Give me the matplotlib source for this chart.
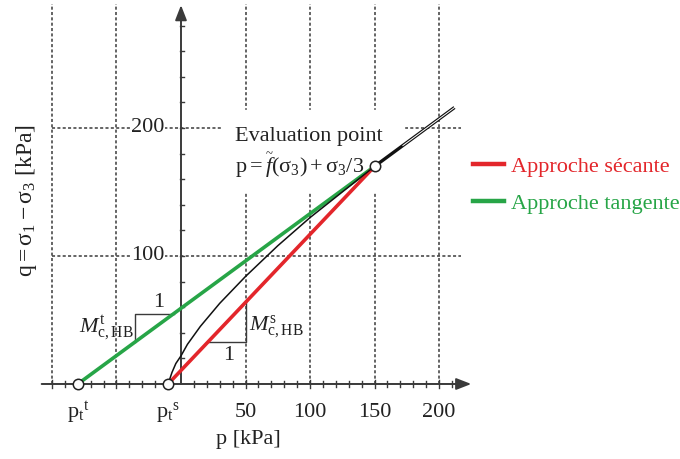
import numpy as np
import matplotlib
matplotlib.use("Agg")
import matplotlib.pyplot as plt
from matplotlib.lines import Line2D

plt.rcParams['font.family'] = ['Liberation Serif', 'DejaVu Serif']
plt.rcParams['mathtext.fontset'] = 'custom'
plt.rcParams['mathtext.rm'] = 'Liberation Serif'
plt.rcParams['mathtext.it'] = 'Liberation Serif:italic'
plt.rcParams['mathtext.bf'] = 'Liberation Serif:bold'

## data (kPa)
pt_t = -80      # tension cut-off, tangent approach
pt_s = -10      # tension cut-off, secant approach
p_eval = 150
q_eval = 170

# measured HB curve
p_curve = [-10, -7, -4, 0, 5, 15, 30, 50, 75, 100, 125, 150]
q_curve = [0, 9, 16, 22, 31, 45, 63, 84, 108, 130, 150, 170]
# continuation beyond evaluation point
p_ext = [150, 212]
q_ext = [170, 216]

secant_p = [pt_s, p_eval]
secant_q = [0, q_eval]
tangent_p = [pt_t, p_eval]
tangent_q = [0, q_eval]

xgrid = [-100, -50, 50, 100, 150, 200]
ygrid = [100, 200]
xtick_vals = [pt_t, pt_s, 50, 100, 150, 200]
xtick_labels = [r'$\mathrm{p_t}^{\mathrm{t}}$', r'$\mathrm{p_t}^{\mathrm{s}}$', '50', '100', '150', '200']
ytick_vals = [100, 200]

red = '#e3262b'
green = '#27a547'
axc = '#3a3a3a'
fs = 16

fig = plt.figure(figsize=(6.8, 4.59), dpi=100)
ax = fig.add_axes([0, 0, 1, 1])
ax.set_xlim(-140.3, 386.8)
ax.set_ylim(-58.6, 300)
ax.axis('off')

# grid
for x in xgrid:
    ax.plot([x, x], [0, 297], color=axc, lw=1.1, ls=(0, (2, 1.5)), zorder=1)
for y in ygrid:
    ax.plot([-100, 217], [y, y], color=axc, lw=1.1, ls=(0, (2, 1.5)), zorder=1)

# white area behind the annotation text
ax.fill_between([32, 173], 150, 214, color='white', zorder=2)

# axes with arrows
ax.annotate('', xy=(225, 0), xytext=(-108, 0),
            arrowprops=dict(arrowstyle='-|>,head_length=0.9,head_width=0.35',
                            color=axc, lw=1.4, shrinkA=0, shrinkB=0), zorder=3)
ax.annotate('', xy=(0, 296), xytext=(0, 0),
            arrowprops=dict(arrowstyle='-|>,head_length=0.9,head_width=0.35',
                            color=axc, lw=1.4, shrinkA=0, shrinkB=0), zorder=3)
for x in np.arange(-100, 220, 10):
    if x == 0:
        continue
    h = 3.5 if x in xgrid else 2.3
    ax.plot([x, x], [-h, h], color=axc, lw=1.0, zorder=3)
for y in np.arange(20, 290, 20):
    ax.plot([-0.5, 2.5], [y, y], color=axc, lw=1.0, zorder=3)

# tick labels
for x, lab in zip(xtick_vals, xtick_labels):
    ax.text(x, -22.5, lab, ha='center', va='center', fontsize=fs, color='#222', zorder=4)
for y in ytick_vals:
    ax.text(-25.5, y, str(y), ha='center', va='center', fontsize=fs, color='#222', zorder=4,
            bbox=dict(facecolor='white', edgecolor='none', pad=0.5))

ax.text(52, -43, 'p [kPa]', ha='center', va='center', fontsize=fs, color='#222')
ax.text(-120, 143, r'$\mathrm{q} = \mathrm{\sigma}_1 - \mathrm{\sigma}_3$ [kPa]', rotation=90,
        ha='center', va='center', fontsize=17, color='#222')

# approach lines and curve
ax.plot(tangent_p, tangent_q, color=green, lw=2.6, solid_capstyle='butt', zorder=5)
ax.plot(secant_p, secant_q, color=red, lw=2.6, solid_capstyle='butt', zorder=5)
ax.plot(p_curve, q_curve, color='#111', lw=1.1, zorder=6)
ax.plot(p_ext, q_ext, color='#111', lw=2.4, solid_capstyle='butt', zorder=6)
ax.plot([172, 212], [186.3, 216], color='white', lw=0.7, zorder=7)

ax.plot([pt_t, pt_s, p_eval], [0, 0, q_eval], 'o', ms=7.5, mfc='white', mec='#222', mew=1.1, zorder=8)

ax.text(42, 193, 'Evaluation point', ha='left', va='center', fontsize=fs, color='#222', zorder=4)
ax.text(42, 171, r'$\mathrm{p} = \widetilde{f}(\mathrm{\sigma}_3)+\mathrm{\sigma}_3/3$',
        ha='left', va='center', fontsize=fs, color='#222', zorder=4)

# slope triangles
kt = q_eval / (p_eval - pt_t)
ks = q_eval / (p_eval - pt_s)
xt0 = -35.5
yt = 55
ax.plot([xt0, xt0, pt_t + yt / kt], [kt * (xt0 - pt_t), yt, yt], color=axc, lw=1.0, zorder=4)
ax.text(-17.5, 63.5, '1', ha='center', va='center', fontsize=fs, color='#222')
ax.text(-37, 43.5, r'$M^{\mathrm{t}}_{\mathrm{c,HB}}$', ha='right', va='center', fontsize=fs, color='#222')

xs1 = 50
ys = 33
ax.plot([pt_s + ys / ks, xs1, xs1], [ys, ys, ks * (xs1 - pt_s)], color=axc, lw=1.0, zorder=4)
ax.text(37, 22.5, '1', ha='center', va='center', fontsize=fs, color='#222')
ax.text(53, 44.5, r'$M^{\mathrm{s}}_{\mathrm{c,HB}}$', ha='left', va='center', fontsize=fs, color='#222')

# legend
handles = [Line2D([], [], color=red, lw=3.2), Line2D([], [], color=green, lw=3.2)]
ax.legend(handles, ['Approche sécante', 'Approche tangente'], loc='upper left',
          bbox_to_anchor=(0.666, 0.703), frameon=False, fontsize=16, labelcolor=[red, green],
          handlelength=1.4, handletextpad=0.3, labelspacing=0.75)

fig.savefig('out.png', dpi=100)
